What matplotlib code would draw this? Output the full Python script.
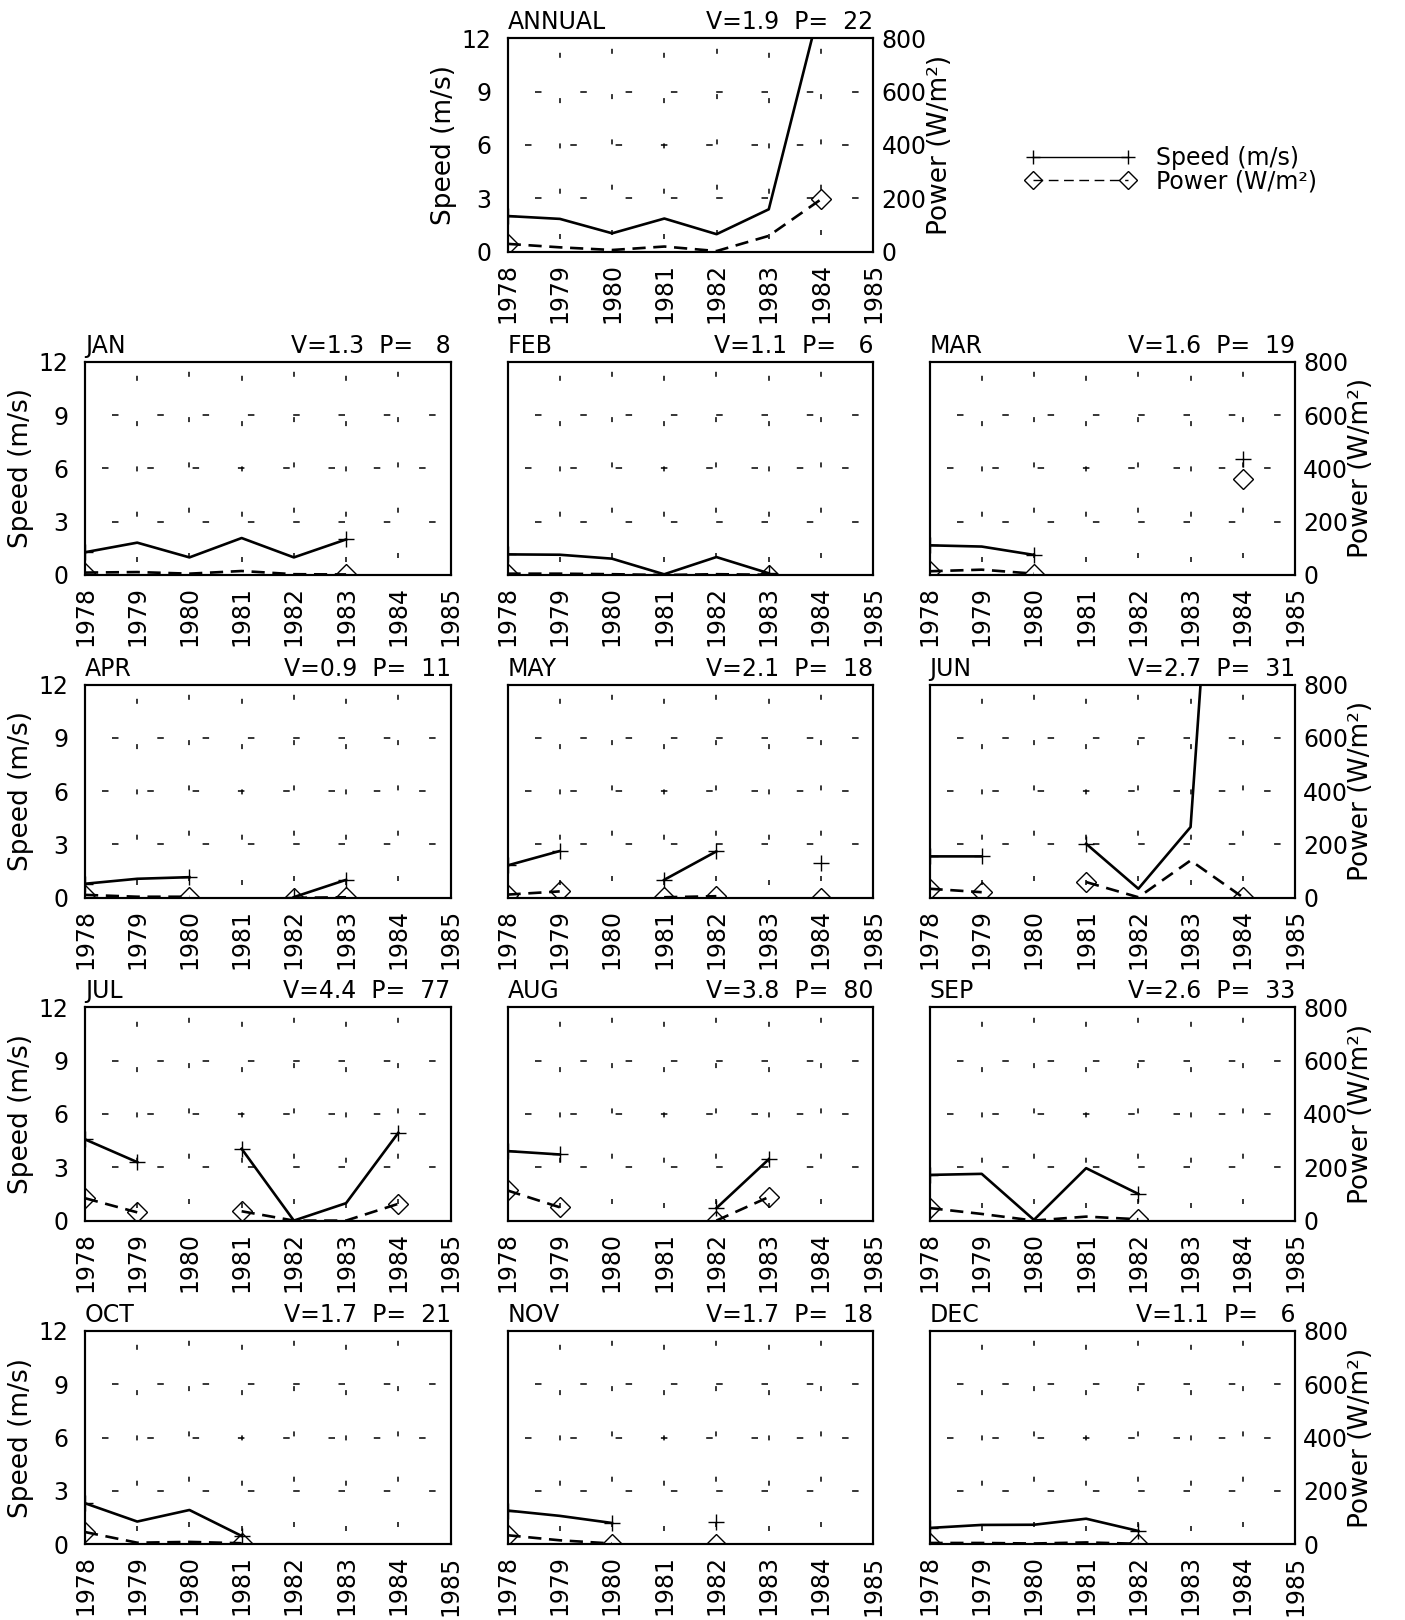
import numpy as np
import matplotlib
matplotlib.use("Agg")
import matplotlib.pyplot as plt
from matplotlib.lines import Line2D

nan = np.nan

# ---------------- data ----------------
years = [1978, 1979, 1980, 1981, 1982, 1983, 1984]
year_ticks = [1978, 1979, 1980, 1981, 1982, 1983, 1984, 1985]
speed_ticks = [0, 3, 6, 9, 12]
power_ticks = [0, 200, 400, 600, 800]
grid_speeds = [3, 6, 9]

panel_names = ["ANNUAL", "JAN", "FEB", "MAR", "APR", "MAY", "JUN",
               "JUL", "AUG", "SEP", "OCT", "NOV", "DEC"]
mean_speed = [1.9, 1.3, 1.1, 1.6, 0.9, 2.1, 2.7, 4.4, 3.8, 2.6, 1.7, 1.7, 1.1]
mean_power = [22, 8, 6, 19, 11, 18, 31, 77, 80, 33, 21, 18, 6]

speed_annual = [2.00, 1.84, 1.03, 1.86, 0.98, 2.38, 14.0]
power_annual = [29, 16, 6, 19, 2, 59, 196]
speed_jan = [1.28, 1.82, 0.99, 2.08, 0.99, 2.00, nan]
power_jan = [9, 11, 5, 15, 3, 2, nan]
speed_feb = [1.16, 1.14, 0.92, 0.04, 1.01, 0.10, nan]
power_feb = [5, 5, 3, 0, 3, 1, nan]
speed_mar = [1.67, 1.60, 1.13, nan, nan, nan, 6.53]
power_mar = [14, 20, 5, nan, nan, nan, 359]
speed_apr = [0.79, 1.07, 1.16, nan, 0.04, 1.01, nan]
power_apr = [11, 4, 4, nan, 0, 2, nan]
speed_may = [1.82, 2.63, nan, 1.01, 2.61, nan, 1.97]
power_may = [12, 24, nan, 2, 6, nan, 1]
speed_jun = [2.33, 2.33, nan, 3.04, 0.51, 3.98, 46.0]
power_jun = [34, 21, nan, 59, 2, 140, 2]
speed_jul = [4.57, 3.29, nan, 4.04, 0.00, 0.98, 4.94]
power_jul = [84, 31, nan, 35, 0, 0, 63]
speed_aug = [3.91, 3.72, nan, nan, 0.70, 3.44, nan]
power_aug = [113, 50, nan, nan, 0, 88, nan]
speed_sep = [2.57, 2.63, 0.04, 2.95, 1.50, nan, nan]
power_sep = [47, 25, 0, 15, 5, nan, nan]
speed_oct = [2.31, 1.28, 1.93, 0.47, nan, nan, nan]
power_oct = [46, 6, 9, 4, nan, nan, nan]
speed_nov = [1.90, 1.60, 1.20, nan, 1.26, nan, nan]
power_nov = [34, 15, 3, nan, 1, nan, nan]
speed_dec = [0.92, 1.09, 1.10, 1.44, 0.75, nan, nan]
power_dec = [5, 5, 3, 7, 2, nan, nan]

speeds = [speed_annual, speed_jan, speed_feb, speed_mar, speed_apr, speed_may,
          speed_jun, speed_jul, speed_aug, speed_sep, speed_oct, speed_nov, speed_dec]
powers = [power_annual, power_jan, power_feb, power_mar, power_apr, power_may,
          power_jun, power_jul, power_aug, power_sep, power_oct, power_nov, power_dec]

# ---------------- style ----------------
plt.rcParams["font.family"] = ["DejaVu Sans"]
plt.rcParams["font.size"] = 17
plt.rcParams["lines.scale_dashes"] = False

FW, FH = 1405, 1620
fig = plt.figure(figsize=(FW / 100, FH / 100), dpi=100)

AW, AH = 365.5, 213.3


def rect(left, top):
    return [left / FW, 1 - (top + AH) / FH, AW / FW, AH / FH]


col_left = [85, 507.5, 929.5]
row_top = [361.7, 684.5, 1007.3, 1331]

positions = [rect(507.7, 38.3)]
for r in range(4):
    for c in range(3):
        positions.append(rect(col_left[c], row_top[r]))
left_labels = [True] + [c == 0 for r in range(4) for c in range(3)]
right_labels = [True] + [c == 2 for r in range(4) for c in range(3)]


def seg_ends(vals):
    v = np.asarray(vals, float)
    ok = ~np.isnan(v)
    n = len(v)
    out = []
    for i in range(n):
        if ok[i] and (i == 0 or not ok[i - 1] or i == n - 1 or not ok[i + 1]):
            out.append(i)
    return out


PT = 72 / 100.0  # points per pixel
period = 45.3 * PT

for k in range(13):
    ax = fig.add_axes(positions[k])
    ax2 = ax.twinx()
    ax.set_xlim(year_ticks[0], year_ticks[-1])
    ax.set_ylim(0, 12)
    ax2.set_ylim(0, 800)

    # sparse dashed grid
    for yr in year_ticks:
        first = 13 if (yr % 2 == 1) else 17
        ax.axvline(yr, color="black", lw=1.1,
                   linestyle=(period - first * PT, (5 * PT, period - 5 * PT)), zorder=1)
    for gy in grid_speeds:
        first = 17 if gy == 6 else 27
        ax.axhline(gy, color="black", lw=1.1,
                   linestyle=(period - first * PT, (6.5 * PT, period - 6.5 * PT)), zorder=1)

    sp = np.asarray(speeds[k], float)
    pw = np.asarray(powers[k], float)
    ax.plot(years, sp, color="black", lw=1.9, marker="+", markersize=11,
            markeredgewidth=1.0, markevery=seg_ends(sp), zorder=3)
    ax2.plot(years, pw, color="black", lw=1.9, linestyle=(0, (9.5, 5.5)),
             marker="D", markersize=10, markerfacecolor="none",
             markeredgewidth=1.0, markevery=seg_ends(pw), zorder=3)

    ax.set_xticks(year_ticks)
    ax.set_xticklabels([str(y) for y in year_ticks], rotation=90)
    ax.set_yticks(speed_ticks)
    ax2.set_yticks(power_ticks)
    ax.tick_params(axis="both", length=0)
    ax.tick_params(axis="x", pad=8)
    ax.tick_params(axis="y", pad=12)
    ax2.tick_params(axis="y", length=0, pad=6)
    if left_labels[k]:
        ax.set_ylabel("Speed (m/s)", fontsize=19, labelpad=3)
    else:
        ax.set_yticklabels([])
    if right_labels[k]:
        ax2.set_ylabel("Power (W/m\u00b2)", fontsize=19, labelpad=0)
    else:
        ax2.set_yticklabels([])

    for a in (ax, ax2):
        for s in a.spines.values():
            s.set_linewidth(1.5)
            s.set_color("black")

    ax.text(0.0, 1.042, panel_names[k], transform=ax.transAxes,
            ha="left", va="baseline")
    ax.text(1.0, 1.042, "V=%.1f  P=%4d" % (mean_speed[k], mean_power[k]),
            transform=ax.transAxes, ha="right", va="baseline")

# legend
h_speed = Line2D([], [], color="black", lw=1.0, marker="+", markersize=10,
                 markeredgewidth=1.0)
h_power = Line2D([], [], color="black", lw=1.0, linestyle=(0, (7, 4)),
                 marker="D", markersize=9, markerfacecolor="none",
                 markeredgewidth=1.0)
fig.legend([h_speed, h_power], ["Speed (m/s)", "Power (W/m\u00b2)"],
           loc="upper left", bbox_to_anchor=(1026 / FW, 1 - 146 / FH),
           frameon=False, numpoints=2, handlelength=4.6, handletextpad=0.9,
           labelspacing=-0.02, borderpad=0, borderaxespad=0)

fig.savefig("out.png", dpi=100)
